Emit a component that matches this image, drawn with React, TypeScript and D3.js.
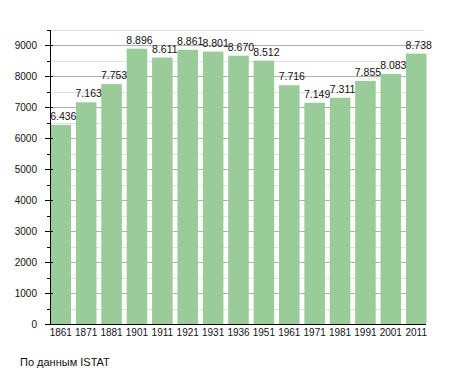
import * as d3 from "d3";
import { useEffect, useRef } from "react";

const years = ["1861", "1871", "1881", "1901", "1911", "1921", "1931", "1936", "1951", "1961", "1971", "1981", "1991", "2001", "2011"];
const population = [6436, 7163, 7753, 8896, 8611, 8861, 8801, 8670, 8512, 7716, 7149, 7311, 7855, 8083, 8738];
const yTicks = [0, 1000, 2000, 3000, 4000, 5000, 6000, 7000, 8000, 9000];
const minorTicks = [500, 1500, 2500, 3500, 4500, 5500, 6500, 7500, 8500, 9500];

export default function App() {
  const ref = useRef<HTMLDivElement>(null);

  useEffect(() => {
    const width = 455;
    const height = 373;
    const left = 50;
    const right = 427;
    const top = 30;
    const bottom = 324;

    d3.select(ref.current).select("svg").remove();

    const svg = d3
      .select(ref.current)
      .append("svg")
      .attr("width", width)
      .attr("height", height)
      .style("position", "absolute")
      .style("left", 0)
      .style("top", 0)
      .style("font-family", "'Liberation Sans', Arial, sans-serif");

    const x = d3
      .scaleBand()
      .domain(years)
      .range([left, right])
      .paddingInner(0.19)
      .paddingOuter(0.02);

    const y = d3.scaleLinear().domain([0, 9500]).range([bottom, top]);

    // minor grid
    svg
      .selectAll("line.minor")
      .data(minorTicks)
      .enter()
      .append("line")
      .attr("x1", left)
      .attr("x2", right - 3)
      .attr("y1", (d) => Math.round(y(d)) + 0.5)
      .attr("y2", (d) => Math.round(y(d)) + 0.5)
      .attr("stroke", "#e2e2e2");

    // major grid
    svg
      .selectAll("line.major")
      .data(yTicks.slice(1))
      .enter()
      .append("line")
      .attr("x1", left)
      .attr("x2", right - 3)
      .attr("y1", (d) => Math.round(y(d)) + 0.5)
      .attr("y2", (d) => Math.round(y(d)) + 0.5)
      .attr("stroke", "#b0b0b0");

    // bars
    svg
      .selectAll("rect")
      .data(population)
      .enter()
      .append("rect")
      .attr("x", (d, i) => x(years[i])!)
      .attr("y", (d) => y(d))
      .attr("width", x.bandwidth())
      .attr("height", (d) => bottom - y(d))
      .attr("fill", "#99cc99");

    // value labels (sit slightly right of bar centre, like the original)
    svg
      .selectAll("text.val")
      .data(population)
      .enter()
      .append("text")
      .attr("x", (d, i) => x(years[i])! + x.bandwidth() / 2 + 2.5)
      .attr("y", (d) => y(d) - 5)
      .attr("text-anchor", "middle")
      .attr("font-size", 10.5)
      .attr("fill", "#111")
      .text((d) => d3.format(".3f")(d / 1000));

    // y axis
    svg
      .append("line")
      .attr("x1", left + 0.5)
      .attr("x2", left + 0.5)
      .attr("y1", top)
      .attr("y2", bottom)
      .attr("stroke", "#000");

    svg
      .selectAll("line.ytick")
      .data(yTicks)
      .enter()
      .append("line")
      .attr("x1", left - 5)
      .attr("x2", left + 3)
      .attr("y1", (d) => Math.round(y(d)) + 0.5)
      .attr("y2", (d) => Math.round(y(d)) + 0.5)
      .attr("stroke", "#000");

    svg
      .selectAll("line.yminor")
      .data(minorTicks)
      .enter()
      .append("line")
      .attr("x1", left - 3)
      .attr("x2", left)
      .attr("y1", (d) => Math.round(y(d)) + 0.5)
      .attr("y2", (d) => Math.round(y(d)) + 0.5)
      .attr("stroke", "#000");

    svg
      .selectAll("text.ylab")
      .data(yTicks)
      .enter()
      .append("text")
      .attr("x", 37)
      .attr("y", (d) => y(d) + 3.5)
      .attr("text-anchor", "end")
      .attr("font-size", 10)
      .attr("fill", "#111")
      .text((d) => d);

    // x axis
    svg
      .append("line")
      .attr("x1", left)
      .attr("x2", right - 1)
      .attr("y1", bottom + 0.5)
      .attr("y2", bottom + 0.5)
      .attr("stroke", "#000");

    svg
      .selectAll("text.xlab")
      .data(years)
      .enter()
      .append("text")
      .attr("x", (d) => x(d)! + x.bandwidth() / 2)
      .attr("y", bottom + 12)
      .attr("text-anchor", "middle")
      .attr("font-size", 10)
      .attr("fill", "#111")
      .text((d) => d);

    svg
      .append("text")
      .attr("x", 20)
      .attr("y", 366)
      .attr("font-size", 11)
      .attr("fill", "#111")
      .text("По данным  ISTAT");
  }, []);

  return <div ref={ref}></div>;
}
